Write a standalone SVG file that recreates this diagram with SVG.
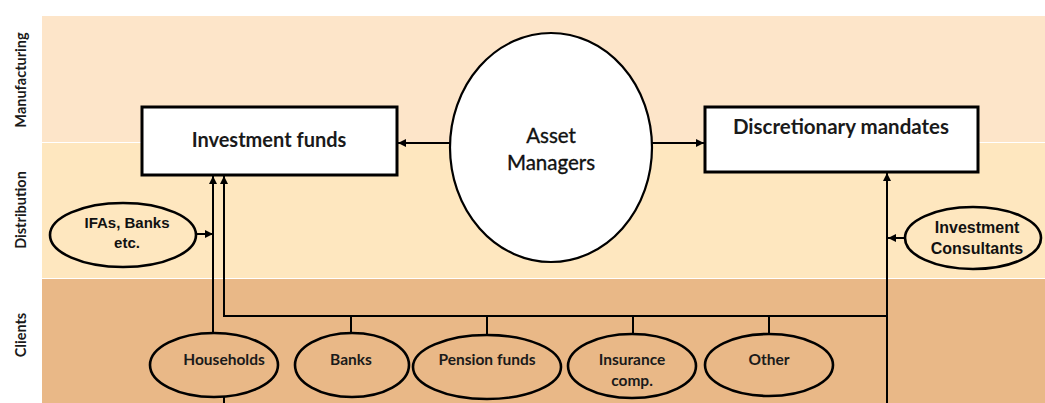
<svg xmlns="http://www.w3.org/2000/svg" width="1045" height="403" viewBox="0 0 1045 403">
  <style>
    .box { fill: #fff; stroke: #000; stroke-width: 3; }
    .oval { stroke: #000; stroke-width: 2.6; fill: none; }
    .wire { fill: none; stroke: #000; stroke-width: 2; }
    .cal { font-family: Lato, "Open Sans", sans-serif; fill: #1a1a1a; text-anchor: middle; }
    .small { font-size: 15.5px; font-weight: 700; }
    .title { fill: #111; stroke: #111; stroke-width: 0.35; }
    .ari { font-family: "Liberation Sans", Arial, sans-serif; font-weight: bold; fill: #111; text-anchor: middle; }
    .band-label { font-family: Lato, "Open Sans", sans-serif; font-weight: 700; font-size: 14.5px; fill: #1a1a1a; text-anchor: middle; }
  </style>
  <defs>
    <marker id="arrow" viewBox="0 0 10 10" refX="10" refY="5" markerWidth="9" markerHeight="8" markerUnits="userSpaceOnUse" orient="auto">
      <path d="M0,0 L10,5 L0,10 z" fill="#000"/>
    </marker>
  </defs>

  <rect width="1045" height="403" fill="#fff"/>

  <!-- swim lanes -->
  <g id="lanes">
    <rect x="42" y="16" width="1003" height="126" fill="#FDE5C9"/>
    <rect x="42" y="143" width="1003" height="135" fill="#FEE7BF"/>
    <rect x="42" y="279" width="1003" height="124" fill="#E9B887"/>
    <text class="band-label" transform="translate(26,80) rotate(-90)">Manufacturing</text>
    <text class="band-label" transform="translate(26,210) rotate(-90)">Distribution</text>
    <text class="band-label" transform="translate(26,335) rotate(-90)">Clients</text>
  </g>

  <!-- connectors -->
  <g id="connectors">
    <line class="wire" x1="450" y1="143" x2="398" y2="143" marker-end="url(#arrow)"/>
    <line class="wire" x1="652" y1="143" x2="704" y2="143" marker-end="url(#arrow)"/>
    <line class="wire" x1="197" y1="234" x2="213" y2="234" marker-end="url(#arrow)"/>
    <line class="wire" x1="213" y1="333" x2="213" y2="176" marker-end="url(#arrow)"/>
    <polyline class="wire" points="887,316 224,316 224,176" marker-end="url(#arrow)"/>
    <line class="wire" x1="887" y1="403" x2="887" y2="173" marker-end="url(#arrow)"/>
    <line class="wire" x1="905" y1="238" x2="888" y2="238" marker-end="url(#arrow)"/>
    <line class="wire" x1="224" y1="397" x2="224" y2="403"/>
    <line class="wire" x1="351" y1="316" x2="351" y2="334"/>
    <line class="wire" x1="487" y1="316" x2="487" y2="335"/>
    <line class="wire" x1="633" y1="316" x2="633" y2="335"/>
    <line class="wire" x1="769" y1="316" x2="769" y2="334"/>
  </g>

  <g id="investment-funds">
    <rect class="box" x="142" y="107" width="255" height="68"/>
    <text class="cal" x="269" y="147" font-size="20" font-weight="700">Investment funds</text>
  </g>

  <g id="asset-managers">
    <ellipse cx="551" cy="147.5" rx="101" ry="114.5" fill="#fff" stroke="#000" stroke-width="2.2"/>
    <text class="cal title" x="551" y="143" font-size="20.5">Asset</text>
    <text class="cal title" x="551" y="170" font-size="20.5">Managers</text>
  </g>

  <g id="discretionary-mandates">
    <rect class="box" x="705" y="107" width="273" height="65"/>
    <text class="cal" x="841" y="134" font-size="20.5" font-weight="700">Discretionary mandates</text>
  </g>

  <g id="ifas-banks">
    <ellipse class="oval" cx="123" cy="235" rx="73" ry="32"/>
    <text class="ari" x="127" y="228" font-size="15">IFAs, Banks</text>
    <text class="ari" x="127" y="248" font-size="15">etc.</text>
  </g>

  <g id="investment-consultants">
    <ellipse class="oval" cx="973" cy="238" rx="68" ry="31"/>
    <text class="ari" x="977" y="233" font-size="16">Investment</text>
    <text class="ari" x="977" y="254" font-size="16">Consultants</text>
  </g>

  <g id="households">
    <ellipse class="oval" cx="214" cy="365" rx="64" ry="32"/>
    <text class="cal small" x="224" y="365">Households</text>
  </g>

  <g id="banks">
    <ellipse class="oval" cx="352" cy="365" rx="57" ry="32"/>
    <text class="cal small" x="351" y="365">Banks</text>
  </g>

  <g id="pension-funds">
    <ellipse class="oval" cx="487" cy="367" rx="74" ry="32"/>
    <text class="cal small" x="487" y="365">Pension funds</text>
  </g>

  <g id="insurance-comp">
    <ellipse class="oval" cx="632" cy="366" rx="64" ry="32"/>
    <text class="cal small" x="632" y="365">Insurance</text>
    <text class="cal small" x="632" y="386">comp.</text>
  </g>

  <g id="other">
    <ellipse class="oval" cx="769" cy="365" rx="64" ry="31"/>
    <text class="cal small" x="769" y="365">Other</text>
  </g>
</svg>
